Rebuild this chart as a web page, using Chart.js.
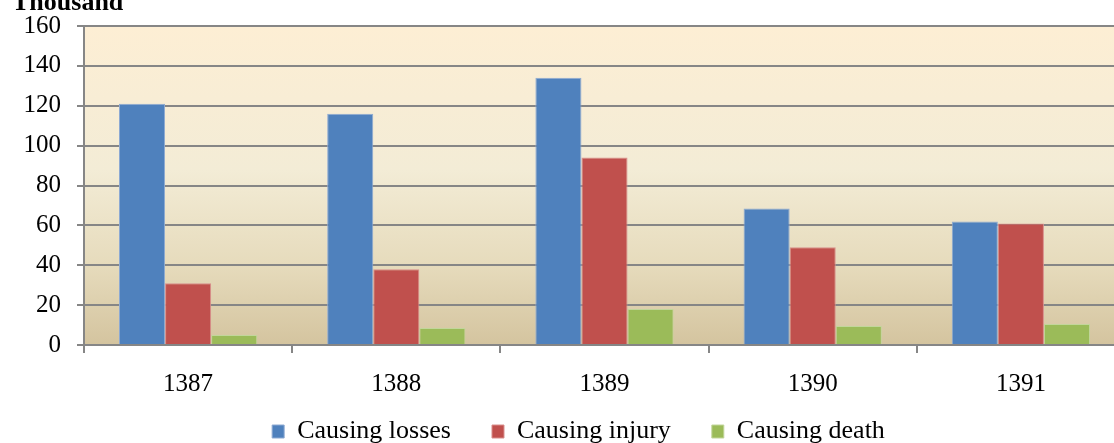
<!DOCTYPE html>
<html>
<head>
<meta charset="utf-8">
<script src="https://cdn.jsdelivr.net/npm/chart.js@4"></script>
<style>
  html, body { margin: 0; padding: 0; background: #fff; overflow: hidden; }
  #frame { width: 1114px; height: 443px; overflow: hidden; position: relative; }
  #wrap { width: 1125px; height: 478px; position: absolute; left: 0; top: 0; }
</style>
</head>
<body>
<div id="frame"><div id="wrap"><canvas id="chart"></canvas></div></div>
<script>
// years and series (thousand)
const years = ['1387', '1388', '1389', '1390', '1391'];
const losses = [121, 116, 134, 68.5, 62];
const injury = [31, 38, 94, 49, 61];
const death = [5, 8.5, 18, 9.5, 10.5];
const yTicks = [0, 20, 40, 60, 80, 100, 120, 140, 160];

const serif = "'Liberation Serif', 'Times New Roman', serif";

// plot background, "Thousand" label, legend nudge
const plotBg = {
    id: 'plotBg',
    afterLayout(chart) {
        // legend sits a bit right of the plot centre and close under the labels
        const lg = chart.legend;
        const h = lg.bottom - lg.top;
        lg.left += 16;
        lg.right += 16;
        lg.top = 377.5;
        lg.bottom = lg.top + h;
    },
    beforeDraw(chart) {
        const { ctx, chartArea: a } = chart;
        const g = ctx.createLinearGradient(0, a.top, 0, a.bottom);
        g.addColorStop(0, '#FDEED4');
        g.addColorStop(0.45, '#F3ECD6');
        g.addColorStop(0.75, '#E6DBBC');
        g.addColorStop(1, '#D4C49F');
        ctx.save();
        ctx.fillStyle = g;
        ctx.fillRect(a.left, a.top, a.right - a.left, a.bottom - a.top);
        ctx.restore();
    },
    afterDraw(chart) {
        const ctx = chart.ctx;
        ctx.save();
        ctx.font = 'bold 26px ' + serif;
        ctx.fillStyle = '#000';
        ctx.textBaseline = 'alphabetic';
        ctx.fillText('Thousand', 12, 10);
        ctx.restore();
    }
};

new Chart(document.getElementById('chart'), {
    type: 'bar',
    data: {
        labels: years,
        datasets: [
            { label: 'Causing losses', data: losses, backgroundColor: '#4F81BD', borderColor: '#8EAAD3', borderWidth: 1 },
            { label: 'Causing injury', data: injury, backgroundColor: '#C0504D', borderColor: '#D98E8C', borderWidth: 1 },
            { label: 'Causing death', data: death, backgroundColor: '#9BBB59', borderColor: '#C2D69B', borderWidth: 1 }
        ]
    },
    options: {
        responsive: true,
        maintainAspectRatio: false,
        animation: false,
        layout: { padding: { top: 26, right: 0, left: 0, bottom: 0 } },
        datasets: { bar: { categoryPercentage: 0.664, barPercentage: 1 } },
        plugins: {
            legend: {
                position: 'bottom',
                labels: {
                    font: { family: serif, size: 26 },
                    color: '#000',
                    boxWidth: 12,
                    boxHeight: 13,
                    padding: 41
                }
            },
            tooltip: { enabled: false }
        },
        scales: {
            x: {
                offset: true,
                afterFit(scale) { scale.height = 56; },
                grid: { display: true, drawOnChartArea: false, drawTicks: true, tickLength: 8, color: '#868686', lineWidth: 2, offset: true },
                border: { display: true, color: '#868686', width: 2 },
                ticks: { font: { family: serif, size: 25 }, color: '#000', padding: 16 }
            },
            y: {
                min: 0,
                max: 160,
                afterBuildTicks(scale) { scale.ticks = yTicks.map(v => ({ value: v })); },
                afterFit(scale) { scale.width = 84; scale.paddingTop = 10; },
                grid: { color: '#868686', lineWidth: 2, tickLength: 7 },
                border: { display: true, color: '#868686', width: 2 },
                ticks: { font: { family: serif, size: 25 }, color: '#000', padding: 16 }
            }
        }
    },
    plugins: [plotBg]
});
</script>
</body>
</html>
